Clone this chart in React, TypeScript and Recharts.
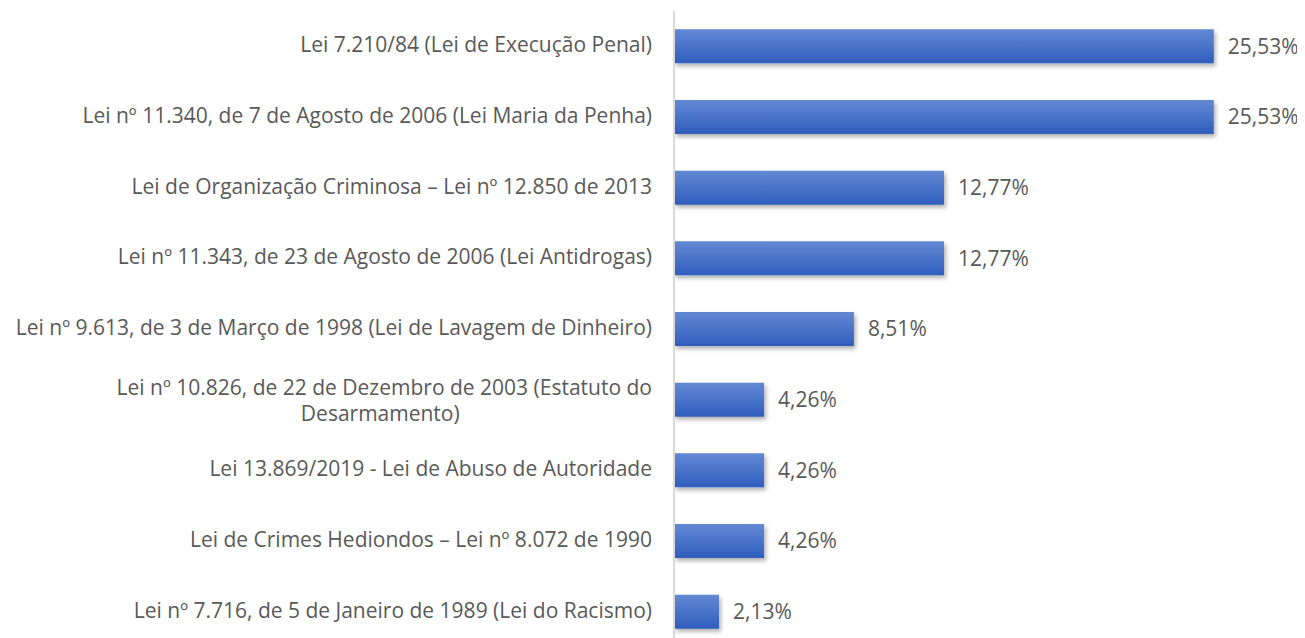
import { BarChart, Bar, XAxis, YAxis, LabelList } from 'recharts';

const leis = [
  'Lei 7.210/84 (Lei de Execução Penal)',
  'Lei nº 11.340, de 7 de Agosto de 2006 (Lei Maria da Penha)',
  'Lei de Organização Criminosa – Lei nº 12.850 de 2013',
  'Lei nº 11.343, de 23 de Agosto de 2006 (Lei Antidrogas)',
  'Lei nº 9.613, de 3 de Março de 1998 (Lei de Lavagem de Dinheiro)',
  'Lei nº 10.826, de 22 de Dezembro de 2003 (Estatuto do Desarmamento)',
  'Lei 13.869/2019 - Lei de Abuso de Autoridade',
  'Lei de Crimes Hediondos – Lei nº 8.072 de 1990',
  'Lei nº 7.716, de 5 de Janeiro de 1989 (Lei do Racismo)',
];

const percentuais = [25.53, 25.53, 12.77, 12.77, 8.51, 4.26, 4.26, 4.26, 2.13];

const data = leis.map((lei, i) => ({ lei, pct: percentuais[i] }));

const FONT = '"Open Sans", Lato, sans-serif';
const FONT_SIZE = 21;
const TEXT_COLOR = '#595959';

// Excel-style wrapping: break long labels and center the lines
const wrap = (s: string, max = 56) => {
  if (s.length <= 65) return [s];
  const cut = s.lastIndexOf(' ', max);
  return [s.slice(0, cut), s.slice(cut + 1)];
};

let ctx: CanvasRenderingContext2D | null = null;
const measure = (s: string) => {
  if (!ctx) ctx = document.createElement('canvas').getContext('2d');
  if (!ctx) return s.length * 10;
  ctx.font = `${FONT_SIZE}px ${FONT}`;
  return ctx.measureText(s).width;
};

const LeiTick = (props: any) => {
  const { x, y, payload } = props;
  const lines = wrap(payload.value);
  if (lines.length === 1) {
    return (
      <text x={x} y={y} dy={6} textAnchor="end" fill={TEXT_COLOR} fontSize={FONT_SIZE} fontFamily={FONT}>
        {payload.value}
      </text>
    );
  }
  // Excel keeps the trailing space of the first line, so the center sits a bit left
  const cx = x - (Math.max(...lines.map(measure)) + 8) / 2;
  return (
    <text x={cx} y={y} textAnchor="middle" fill={TEXT_COLOR} fontSize={FONT_SIZE} fontFamily={FONT}>
      {lines.map((l, i) => (
        <tspan key={i} x={i === 0 ? x : cx} textAnchor={i === 0 ? 'end' : 'middle'} dy={i === 0 ? -5 : 26}>
          {l}
        </tspan>
      ))}
    </text>
  );
};

const fmt = (v: any) => `${Number(v).toFixed(2).replace('.', ',')}%`;

export default function App() {
  return (
    <div style={{ width: 1297, height: 640 }}>
      <BarChart
        width={1297}
        height={640}
        data={data}
        layout="vertical"
        margin={{ top: 3, right: 39, bottom: 1, left: 0 }}
        barCategoryGap="26%"
      >
        <defs>
          <linearGradient id="barFill" x1="0" y1="0" x2="0" y2="1">
            <stop offset="0%" stopColor="#6388d3" />
            <stop offset="50%" stopColor="#4a73c9" />
            <stop offset="100%" stopColor="#2f5dbd" />
          </linearGradient>
          <filter id="barShadow" x="-5%" y="-20%" width="115%" height="160%">
            <feDropShadow dx="2" dy="3" stdDeviation="2" floodColor="#000" floodOpacity="0.3" />
          </filter>
        </defs>
        <XAxis type="number" domain={[0, 28]} hide />
        <YAxis
          type="category"
          dataKey="lei"
          width={666}
          axisLine={{ stroke: '#d9d9d9', strokeWidth: 2 }}
          tickLine={false}
          tickSize={0}
          tickMargin={22}
          interval={0}
          tick={<LeiTick />}
        />
        <Bar dataKey="pct" fill="url(#barFill)" filter="url(#barShadow)" isAnimationActive={false}>
          <LabelList
            dataKey="pct"
            position="right"
            offset={14}
            formatter={fmt}
            fill={TEXT_COLOR}
            fontSize={FONT_SIZE}
            fontFamily={FONT}
          />
        </Bar>
      </BarChart>
    </div>
  );
}
